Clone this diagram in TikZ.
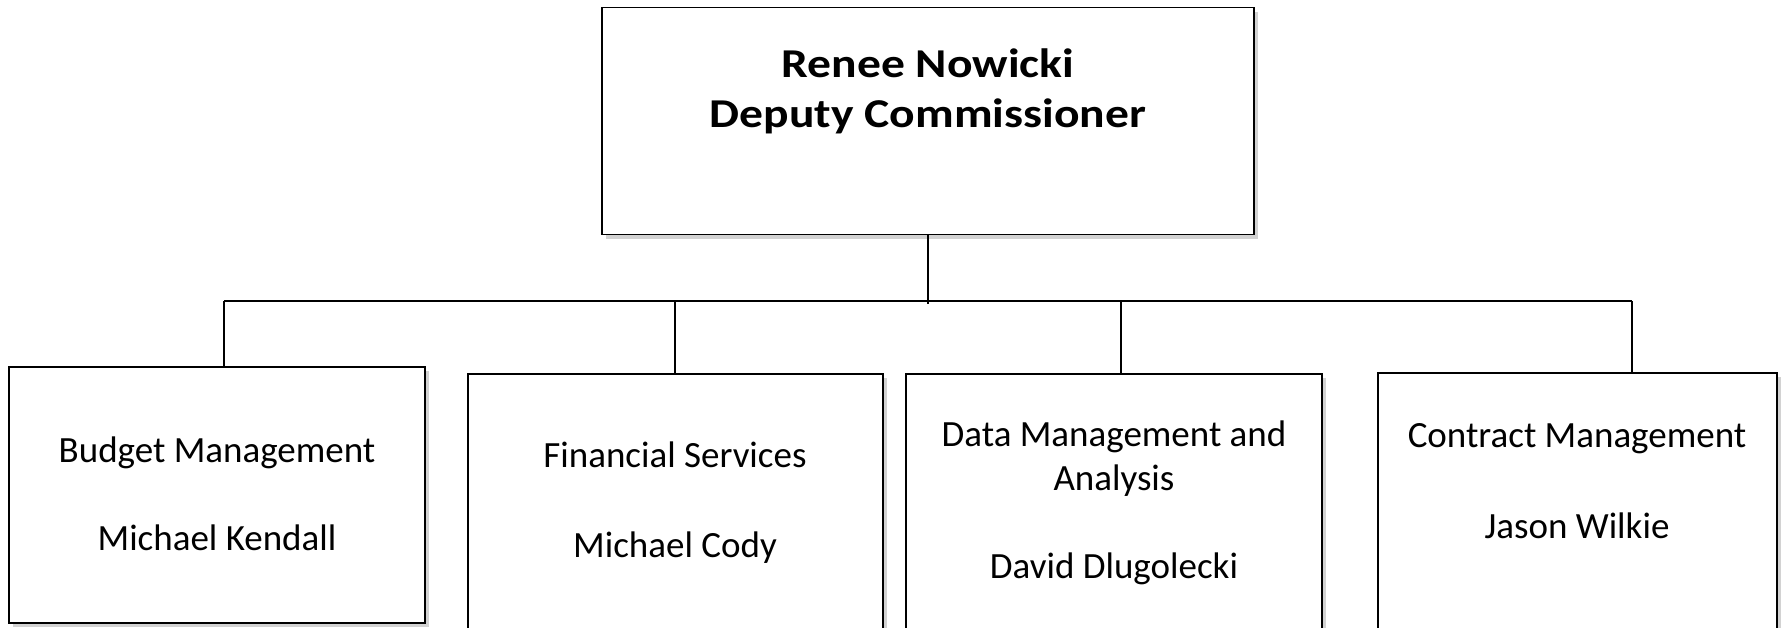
\documentclass[tikz,border=0pt]{standalone}
\usepackage{fontspec}
\setmainfont{Carlito}
\newfontfamily\chieffont[FakeStretch=1.16]{Carlito}
\usetikzlibrary{shadows}

\begin{document}
\begin{tikzpicture}[x=1pt, y=-1pt, semithick]
\tikzstyle{box}=[shape=rectangle, draw=black, fill=white, line width=1.4pt,
                 inner sep=0pt, drop shadow={shadow xshift=4pt,
                 shadow yshift=-4pt, fill=black!35}]
\tikzstyle{wire}=[line width=2pt]
\tikzstyle{unit}=[anchor=base, align=center, font=\fontsize{37}{44}\selectfont]
  \useasboundingbox (0,0) rectangle (1781,627);
  \clip (0,0) rectangle (1781,627);
  \node[box, minimum width=652pt, minimum height=227pt] (chief) at (928,121) {};
  \node[box, minimum width=416pt, minimum height=256pt] (budget) at (217,495) {};
  \node[box, minimum width=415pt, minimum height=286pt] (finance) at (675.5,517) {};
  \node[box, minimum width=416pt, minimum height=286pt] (data) at (1114,517) {};
  \node[box, minimum width=399pt, minimum height=287pt] (contract) at (1577.5,516.5) {};
  \node[anchor=base, align=center, font=\chieffont\bfseries\fontsize{41}{50}\selectfont]
       (chieftxt) at (928,127) {Renee Nowicki\\Deputy Commissioner};
  \node[unit] (budgettxt) at (217,550) {Budget Management\\[44pt]Michael Kendall};
  \node[unit] (financetxt) at (675,557) {Financial Services\\[46pt]Michael Cody};
  \node[unit] (datatxt) at (1114,578) {Data Management and\\Analysis\\[44pt]David Dlugolecki};
  \node[unit] (contracttxt) at (1577,538) {Contract Management\\[47pt]Jason Wilkie};
  \coordinate (hub) at (928,304);
  \coordinate (d1) at (224,301);
  \coordinate (d2) at (675,301);
  \coordinate (d3) at (1121,301);
  \coordinate (d4) at (1632,301);
  \draw[wire] (chief) -- (hub);
  \draw[wire] (d1) -- (d4);
  \foreach \d/\b in {d1/budget, d2/finance, d3/data, d4/contract}
    \draw[wire] (\d) -- (\d |- \b.north);
\end{tikzpicture}
\end{document}
